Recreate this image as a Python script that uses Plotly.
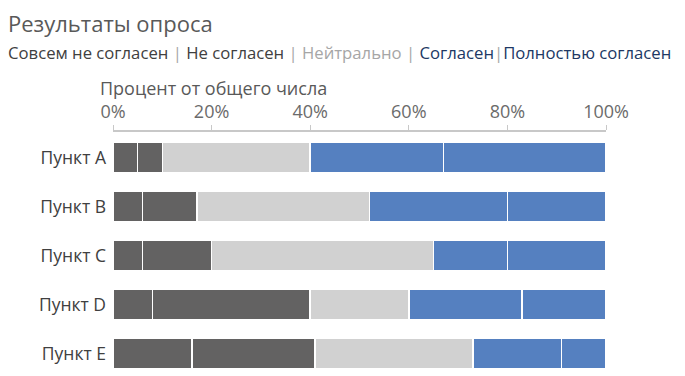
import plotly.graph_objects as go

categories = ["Пункт A", "Пункт B", "Пункт C", "Пункт D", "Пункт E"]
series_names = ["Совсем не согласен", "Не согласен", "Нейтрально", "Согласен", "Полностью согласен"]
strongly_disagree = [5, 6, 6, 8, 16]
disagree = [5, 11, 14, 32, 25]
neutral = [30, 35, 45, 20, 32]
agree = [27, 28, 15, 23, 18]
strongly_agree = [33, 20, 20, 17, 9]
tick_vals = [0, 20, 40, 60, 80, 100]
tick_text = ["0%", "20%", "40%", "60%", "80%", "100%"]

series_values = [strongly_disagree, disagree, neutral, agree, strongly_agree]
colors = ["#636262", "#636262", "#d1d1d1", "#5580c0", "#5580c0"]

FONT = "Open Sans"
OFF = 8  # page body margin offset
W, H = 685 - OFF, 376 - OFF
L, R, T, B = 113 - OFF, 79, 132 - OFF, 0
PW, PH = W - L - R, H - T - B


def px_x(x):
    return (x - OFF - L) / PW


def px_y(y):
    return (H - B - (y - OFF)) / PH


fig = go.Figure()
for name, vals, col in zip(series_names, series_values, colors):
    fig.add_trace(go.Bar(
        y=categories, x=vals, name=name, orientation="h",
        marker=dict(color=col, line=dict(color="white", width=1.5)),
        hoverinfo="x+y+name",
    ))

fig.update_layout(
    barmode="stack",
    bargap=0.37,
    width=W, height=H,
    margin=dict(l=L, r=R, t=T, b=B, autoexpand=False),
    paper_bgcolor="white", plot_bgcolor="white",
    showlegend=False,
    font=dict(family=FONT, color="#595959"),
    xaxis=dict(
        side="top", range=[0, 100], tickvals=tick_vals, ticktext=tick_text,
        showgrid=False, zeroline=False,
        showline=True, linecolor="#c8c8c8", linewidth=1.5,
        ticks="outside", ticklen=5, tickcolor="#c8c8c8", tickwidth=1,
        tickfont=dict(family=FONT, size=18, color="#6b6b6b"),
        fixedrange=True,
    ),
    yaxis=dict(
        range=[4.46, -0.52], showgrid=False, zeroline=False, showline=False,
        ticks="", ticklabelstandoff=6,
        tickfont=dict(family=FONT, size=17.5, color="#404040"),
        fixedrange=True,
    ),
)

sep = '<span style="color:#a6a6a6"> | </span>'
legend_text = (
    '<span style="color:#404040">Совсем не согласен</span>' + sep +
    '<span style="color:#404040">Не согласен</span>' + sep +
    '<span style="color:#a6a6a6">Нейтрально</span>' + sep +
    '<span style="color:#203864">Согласен</span>' + sep.replace(" | ", "|") +
    '<span style="color:#203864">Полностью согласен</span>'
)

fig.add_annotation(text="Результаты опроса", xref="paper", yref="paper",
                   x=px_x(6), y=px_y(23), xanchor="left", yanchor="middle",
                   showarrow=False, font=dict(family=FONT, size=22, color="#595959"))
fig.add_annotation(text=legend_text, xref="paper", yref="paper",
                   x=px_x(6), y=px_y(52), xanchor="left", yanchor="middle",
                   showarrow=False, font=dict(family=FONT, size=16.7))
fig.add_annotation(text="Процент от общего числа", xref="paper", yref="paper",
                   x=px_x(98), y=px_y(88), xanchor="left", yanchor="middle",
                   showarrow=False, font=dict(family=FONT, size=18, color="#595959"))

fig.write_html("out.html")
